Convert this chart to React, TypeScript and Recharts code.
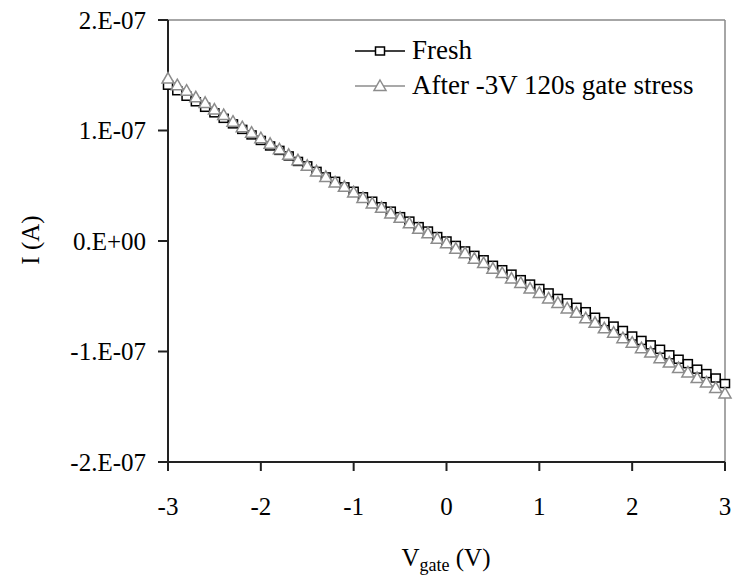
import { LineChart, Line, XAxis, YAxis, ReferenceLine } from 'recharts'

// gate voltage, V
const vgate = [
  -3.0, -2.9, -2.8, -2.7, -2.6, -2.5, -2.4, -2.3, -2.2, -2.1,
  -2.0, -1.9, -1.8, -1.7, -1.6, -1.5, -1.4, -1.3, -1.2, -1.1,
  -1.0, -0.9, -0.8, -0.7, -0.6, -0.5, -0.4, -0.3, -0.2, -0.1,
  0.0, 0.1, 0.2, 0.3, 0.4, 0.5, 0.6, 0.7, 0.8, 0.9,
  1.0, 1.1, 1.2, 1.3, 1.4, 1.5, 1.6, 1.7, 1.8, 1.9,
  2.0, 2.1, 2.2, 2.3, 2.4, 2.5, 2.6, 2.7, 2.8, 2.9, 3.0,
]

// current, in units of 1e-7 A
const fresh = [
  1.41, 1.36, 1.31, 1.26, 1.21, 1.16, 1.11, 1.06, 1.01, 0.96,
  0.91, 0.86, 0.82, 0.77, 0.72, 0.68, 0.63, 0.58, 0.54, 0.49,
  0.45, 0.40, 0.36, 0.31, 0.27, 0.22, 0.18, 0.13, 0.09, 0.04,
  0.00, -0.04, -0.09, -0.13, -0.17, -0.22, -0.26, -0.30, -0.35, -0.39,
  -0.43, -0.47, -0.52, -0.56, -0.60, -0.64, -0.69, -0.73, -0.77, -0.81,
  -0.86, -0.90, -0.94, -0.98, -1.03, -1.07, -1.11, -1.16, -1.20, -1.24, -1.29,
]

const stressed = [
  1.47, 1.41, 1.36, 1.30, 1.25, 1.19, 1.14, 1.08, 1.03, 0.98,
  0.93, 0.88, 0.83, 0.78, 0.73, 0.68, 0.63, 0.58, 0.53, 0.49,
  0.44, 0.39, 0.34, 0.30, 0.25, 0.21, 0.16, 0.11, 0.07, 0.02,
  -0.02, -0.07, -0.11, -0.16, -0.20, -0.25, -0.29, -0.34, -0.38, -0.43,
  -0.47, -0.52, -0.56, -0.61, -0.65, -0.70, -0.74, -0.79, -0.83, -0.88,
  -0.92, -0.97, -1.01, -1.06, -1.10, -1.15, -1.19, -1.24, -1.28, -1.33, -1.38,
]

const xTicks = [-3, -2, -1, 0, 1, 2, 3]
const yTicks = [-2e-7, -1e-7, 0, 1e-7, 2e-7]

const SERIF = 'Liberation Serif'
const AXIS = '#222'
const STRESS = '#8c8c8c'

const data = vgate.map((v, i) => ({
  v,
  fresh: fresh[i] * 1e-7,
  stressed: stressed[i] * 1e-7,
}))

const fmtY = (val: number) => {
  const m = Math.round(val / 1e-7)
  return m === 0 ? '0.E+00' : `${m}.E-07`
}

const Square = (props: any) => {
  const { cx, cy } = props
  if (cx == null || cy == null) return null
  return <rect x={cx - 4.5} y={cy - 4} width={9} height={8} fill="#fff" stroke="#000" strokeWidth={1.5} />
}

const Triangle = (props: any) => {
  const { cx, cy } = props
  if (cx == null || cy == null) return null
  return (
    <path
      d={`M${cx},${cy - 6} L${cx + 6},${cy + 4.5} L${cx - 6},${cy + 4.5} Z`}
      fill="#fff"
      stroke={STRESS}
      strokeWidth={1.5}
    />
  )
}

function LegendBox() {
  const row = { display: 'flex', alignItems: 'center', height: 35 }
  return (
    <div style={{
      position: 'absolute', left: 355, top: 33,
      fontFamily: SERIF, fontSize: 27, color: '#000', lineHeight: 1,
    }}>
      <div style={row}>
        <svg width={50} height={20}>
          <line x1={0} y1={10} x2={50} y2={10} stroke="#000" strokeWidth={1.5} />
          <Square cx={25} cy={10} />
        </svg>
        <span style={{ marginLeft: 7 }}>Fresh</span>
      </div>
      <div style={row}>
        <svg width={50} height={20}>
          <line x1={0} y1={10} x2={50} y2={10} stroke={STRESS} strokeWidth={1.5} />
          <Triangle cx={25} cy={10} />
        </svg>
        <span style={{ marginLeft: 7 }}>After -3V 120s gate stress</span>
      </div>
    </div>
  )
}

const XLabel = () => (
  <text x={446} y={566} textAnchor="middle" fontFamily={SERIF} fontSize={25} fill="#000">
    <tspan>V</tspan>
    <tspan fontSize={18} dy={5}>gate</tspan>
    <tspan dy={-5}> (V)</tspan>
  </text>
)

const YLabel = () => (
  <text x={30} y={240} transform="rotate(-90 30 240)" textAnchor="middle" dominantBaseline="central"
    fontFamily={SERIF} fontSize={25} fill="#000">
    I (A)
  </text>
)

export default function App() {
  return (
    <div style={{ position: 'absolute', left: 0, top: 0, width: 735, height: 586, background: '#fff' }}>
      <LineChart width={735} height={586} data={data} margin={{ top: 20, right: 10, bottom: 0, left: 0 }}>
        <XAxis
          dataKey="v"
          type="number"
          domain={[-3, 3]}
          ticks={xTicks}
          height={124}
          tickSize={9}
          tickMargin={26}
          stroke={AXIS}
          strokeWidth={2}
          tick={{ fontFamily: SERIF, fontSize: 25, fill: '#000' }}
          label={<XLabel />}
        />
        <YAxis
          type="number"
          domain={[-2e-7, 2e-7]}
          ticks={yTicks}
          width={168}
          tickSize={10}
          tickMargin={12}
          tickFormatter={fmtY}
          stroke={AXIS}
          strokeWidth={2}
          tick={{ fontFamily: SERIF, fontSize: 25, fill: '#000' }}
          label={<YLabel />}
        />
        <ReferenceLine y={2e-7} stroke="#888" strokeWidth={1.5} />
        <ReferenceLine x={3} stroke="#888" strokeWidth={1.5} />
        <Line
          dataKey="fresh"
          stroke="#000"
          strokeWidth={1.5}
          dot={<Square />}
          isAnimationActive={false}
        />
        <Line
          dataKey="stressed"
          stroke={STRESS}
          strokeWidth={1.5}
          dot={<Triangle />}
          isAnimationActive={false}
        />
      </LineChart>
      <LegendBox />
    </div>
  )
}
